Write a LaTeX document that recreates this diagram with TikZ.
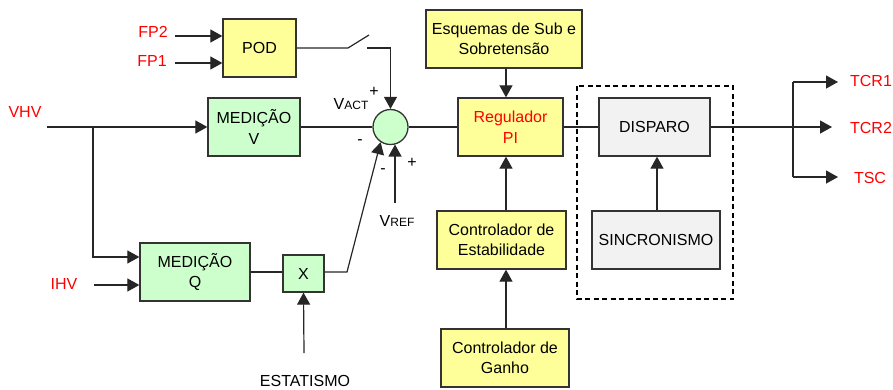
\documentclass[tikz,border=0pt]{standalone}
\usepackage{fontspec}
\setmainfont{Liberation Sans}
\usetikzlibrary{arrows.meta,calc}
\definecolor{boxyellow}{HTML}{FFFF99}
\definecolor{boxgreen}{HTML}{CCFFCC}
\definecolor{boxgray}{HTML}{F2F2F2}
\definecolor{bordergray}{HTML}{333333}
\definecolor{labred}{HTML}{FF0000}
\begin{document}
\begin{tikzpicture}[x=1pt,y=-1pt,
  every node/.style={font=\fontsize{16}{20.5}\selectfont},
  blk/.style={draw=bordergray,line width=1.3pt,inner sep=0pt,align=center},
  ybox/.style={blk,fill=boxyellow},
  gbox/.style={blk,fill=boxgreen},
  grbox/.style={blk,fill=boxgray},
  conn/.style={line width=1.2pt,draw=black!85},
  arr/.style={conn,-{Triangle[length=12pt,width=13pt]}},
  redlab/.style={text=labred,inner sep=0pt},
  blab/.style={inner sep=0pt}]
\useasboundingbox (0,0) rectangle (893,389);

% blocks
\node[ybox,minimum width=73pt,minimum height=58pt] (pod) at (259.5,48) {POD};
\node[gbox,minimum width=92pt,minimum height=58pt] (medv) at (254,127) {MEDIÇÃO\\V};
\node[gbox,minimum width=110pt,minimum height=58pt] (medq) at (195,272) {MEDIÇÃO\\Q};
\node[gbox,minimum width=41pt,minimum height=37pt] (xb) at (303.5,273.5) {X};
\node[draw=bordergray,line width=1.3pt,fill=boxgreen,circle,minimum size=35pt,inner sep=0pt] (sum) at (390.5,127) {};
\node[ybox,minimum width=156pt,minimum height=58pt] (esq) at (504,39) {Esquemas de Sub e\\Sobretensão};
\node[ybox,minimum width=105pt,minimum height=58pt,text=labred] (reg) at (510.5,127) {Regulador\\PI};
\node[ybox,minimum width=129pt,minimum height=58pt] (est) at (501.5,240) {Controlador de\\Estabilidade};
\node[ybox,minimum width=128pt,minimum height=58pt] (gan) at (505,358) {Controlador de\\Ganho};
\node[grbox,minimum width=111pt,minimum height=58pt] (disp) at (654.5,127) {DISPARO};
\node[grbox,minimum width=128pt,minimum height=58pt] (sinc) at (656,240) {SINCRONISMO};
\draw[line width=1.3pt,dashed,dash pattern=on 5pt off 3.5pt] (577,86) rectangle (733,299);

% labels
\node[redlab] (vhv) at (25,112) {VHV};
\node[redlab] (ihv) at (64,284) {IHV};
\node[redlab] (fp2) at (153,32) {FP2};
\node[redlab] (fp1) at (152,61) {FP1};
\node[redlab] (tcr1) at (871,81) {TCR1};
\node[redlab] (tcr2) at (871,128) {TCR2};
\node[redlab] (tsc) at (870,178) {TSC};
\node[blab] (estat) at (305,381) {ESTATISMO};
\node[blab] (vact) at (351,104) {V\fontsize{12}{12}\selectfont ACT};
\node[blab] (vref) at (397,221) {V\fontsize{12}{12}\selectfont REF};
\node[blab] (pact) at (374,92) {+};
\node[blab] (pref) at (412,163) {+};
\node[blab] (m1) at (360,142) {-};
\node[blab] (m2) at (383,171) {-};

% coordinates
\coordinate (vhvin) at (47,127);
\coordinate (br) at (93,127);
\coordinate (ihvin) at (94,285);
\coordinate (fp2in) at (175,36);
\coordinate (fp1in) at (175,63);
\coordinate (sw1) at (348,48);
\coordinate (sw2) at (369,35);
\coordinate (sw3) at (367,48);
\coordinate (sw4) at (390.5,48);
\coordinate (xout) at (347,272);
\coordinate (vrefp) at (395,203);
\coordinate (estin) at (304,353);
\coordinate (o1) at (793,82);
\coordinate (o3) at (793,177);
\coordinate (t1) at (838,82);
\coordinate (t2) at (832,127);
\coordinate (t3) at (838,177);

% connectors
\draw[arr] (vhvin) -- (medv.west);
\draw[arr] (br) |- ([yshift=15pt]medq.west);
\draw[arr] (ihvin) -- ([yshift=-13pt]medq.west);
\draw[arr] (fp2in) -- ([yshift=12pt]pod.west);
\draw[arr] (fp1in) -- ([yshift=-15pt]pod.west);
\draw[conn] (pod.east |- sw1) -- (sw1) -- (sw2);
\draw[arr] (sw3) -- (sw4) -- (sum.north);
\draw[conn] (medv.east) -- (sum.west);
\draw[conn] (medq.east) -- (xb.west |- medq.east);
\draw[arr] (xb.east |- xout) -- (xout) -- (sum.-123);
\draw[arr] (vrefp) -- (vrefp |- sum.-75);
\draw[arr] (estin) -- (xb.south);
\draw[conn] (sum.east) -- (reg.west);
\draw[arr] (esq.south -| 506,0) -- (reg.north -| 506,0);
\draw[arr] (est.north -| 506,0) -- (reg.south -| 506,0);
\draw[arr] (gan.north -| 506,0) -- (est.south -| 506,0);
\draw[conn] (reg.east) -- (disp.west);
\draw[arr] (sinc.north -| 657,0) -- (disp.south -| 657,0);
\draw[arr] (disp.east) -- (t2);
\draw[conn] (o1) -- (o3);
\draw[arr] (o1) -- (t1);
\draw[arr] (o3) -- (t3);
\end{tikzpicture}
\end{document}
